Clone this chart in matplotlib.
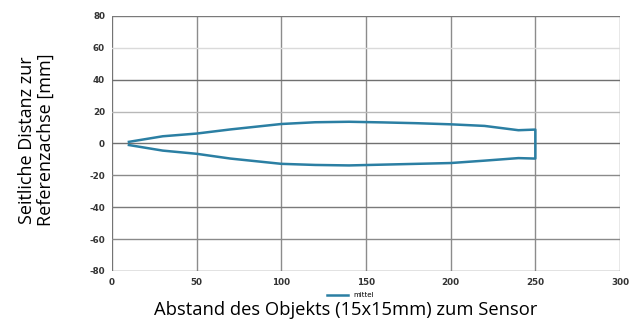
import numpy as np
import matplotlib.pyplot as plt

plt.rcParams['axes.unicode_minus'] = False

# Kontur der Erfassungszone (oben hin, unten zurück)
x_oben = [10, 30, 50, 70, 100, 120, 140, 160, 180, 200, 220, 240, 250]
y_oben = [1.0, 4.5, 6.2, 8.8, 12.2, 13.3, 13.6, 13.2, 12.7, 12.0, 11.0, 8.3, 8.7]
x_unten = [250, 240, 220, 200, 180, 160, 140, 120, 100, 70, 50, 30, 10]
y_unten = [-9.5, -9.2, -10.8, -12.3, -12.8, -13.3, -13.8, -13.5, -12.8, -9.5, -6.5, -4.5, -1.0]

x_ticks = [0, 50, 100, 150, 200, 250, 300]
y_ticks = [-80, -60, -40, -20, 0, 20, 40, 60, 80]

fig = plt.figure(figsize=(6.38, 3.26), dpi=100)
ax = fig.add_axes([0.1755, 0.169, 0.7963, 0.782])

x = x_oben + x_unten
y = y_oben + y_unten
ax.plot(x, y, color='#2b7fa3', lw=1.8, label='mittel', zorder=3)

ax.set_xlim(0, 300)
ax.set_ylim(-80, 80)
ax.set_xticks(x_ticks)
ax.set_yticks(y_ticks)

# Gitterlinien: oben teils heller, wie im Original
grid_farbe = {80: '#7a7a7a', 60: '#dadada', 40: '#707070', 20: '#b8b8b8', 0: '#707070',
              -20: '#8a8a8a', -40: '#7a7a7a', -60: '#8a8a8a', -80: '#707070'}
for xv in x_ticks:
    ax.axvline(xv, color='#8c8c8c', lw=1.0, zorder=1)
ax.axvline(0, color='#707070', lw=1.2, zorder=1)
for yv in y_ticks:
    ax.axhline(yv, color=grid_farbe[yv], lw=1.0, zorder=1)

for s in ax.spines.values():
    s.set_visible(False)
ax.tick_params(length=0, labelsize=6.3, colors='#333333', pad=5)
for lab in ax.get_xticklabels() + ax.get_yticklabels():
    lab.set_fontweight('bold')

fig.text(0.057, 0.571, 'Seitliche Distanz zur\nReferenzachse [mm]', rotation=90,
         ha='center', va='center', fontsize=13, family='Open Sans', linespacing=1.05)
fig.text(0.5415, 0.049, 'Abstand des Objekts (15x15mm) zum Sensor', ha='center',
         va='center', fontsize=13.2, family='Open Sans')

leg = fig.legend(loc='center', bbox_to_anchor=(0.55, 0.095), frameon=False,
                 handlelength=3, prop={'size': 5})

fig.savefig('out.png', dpi=100)
